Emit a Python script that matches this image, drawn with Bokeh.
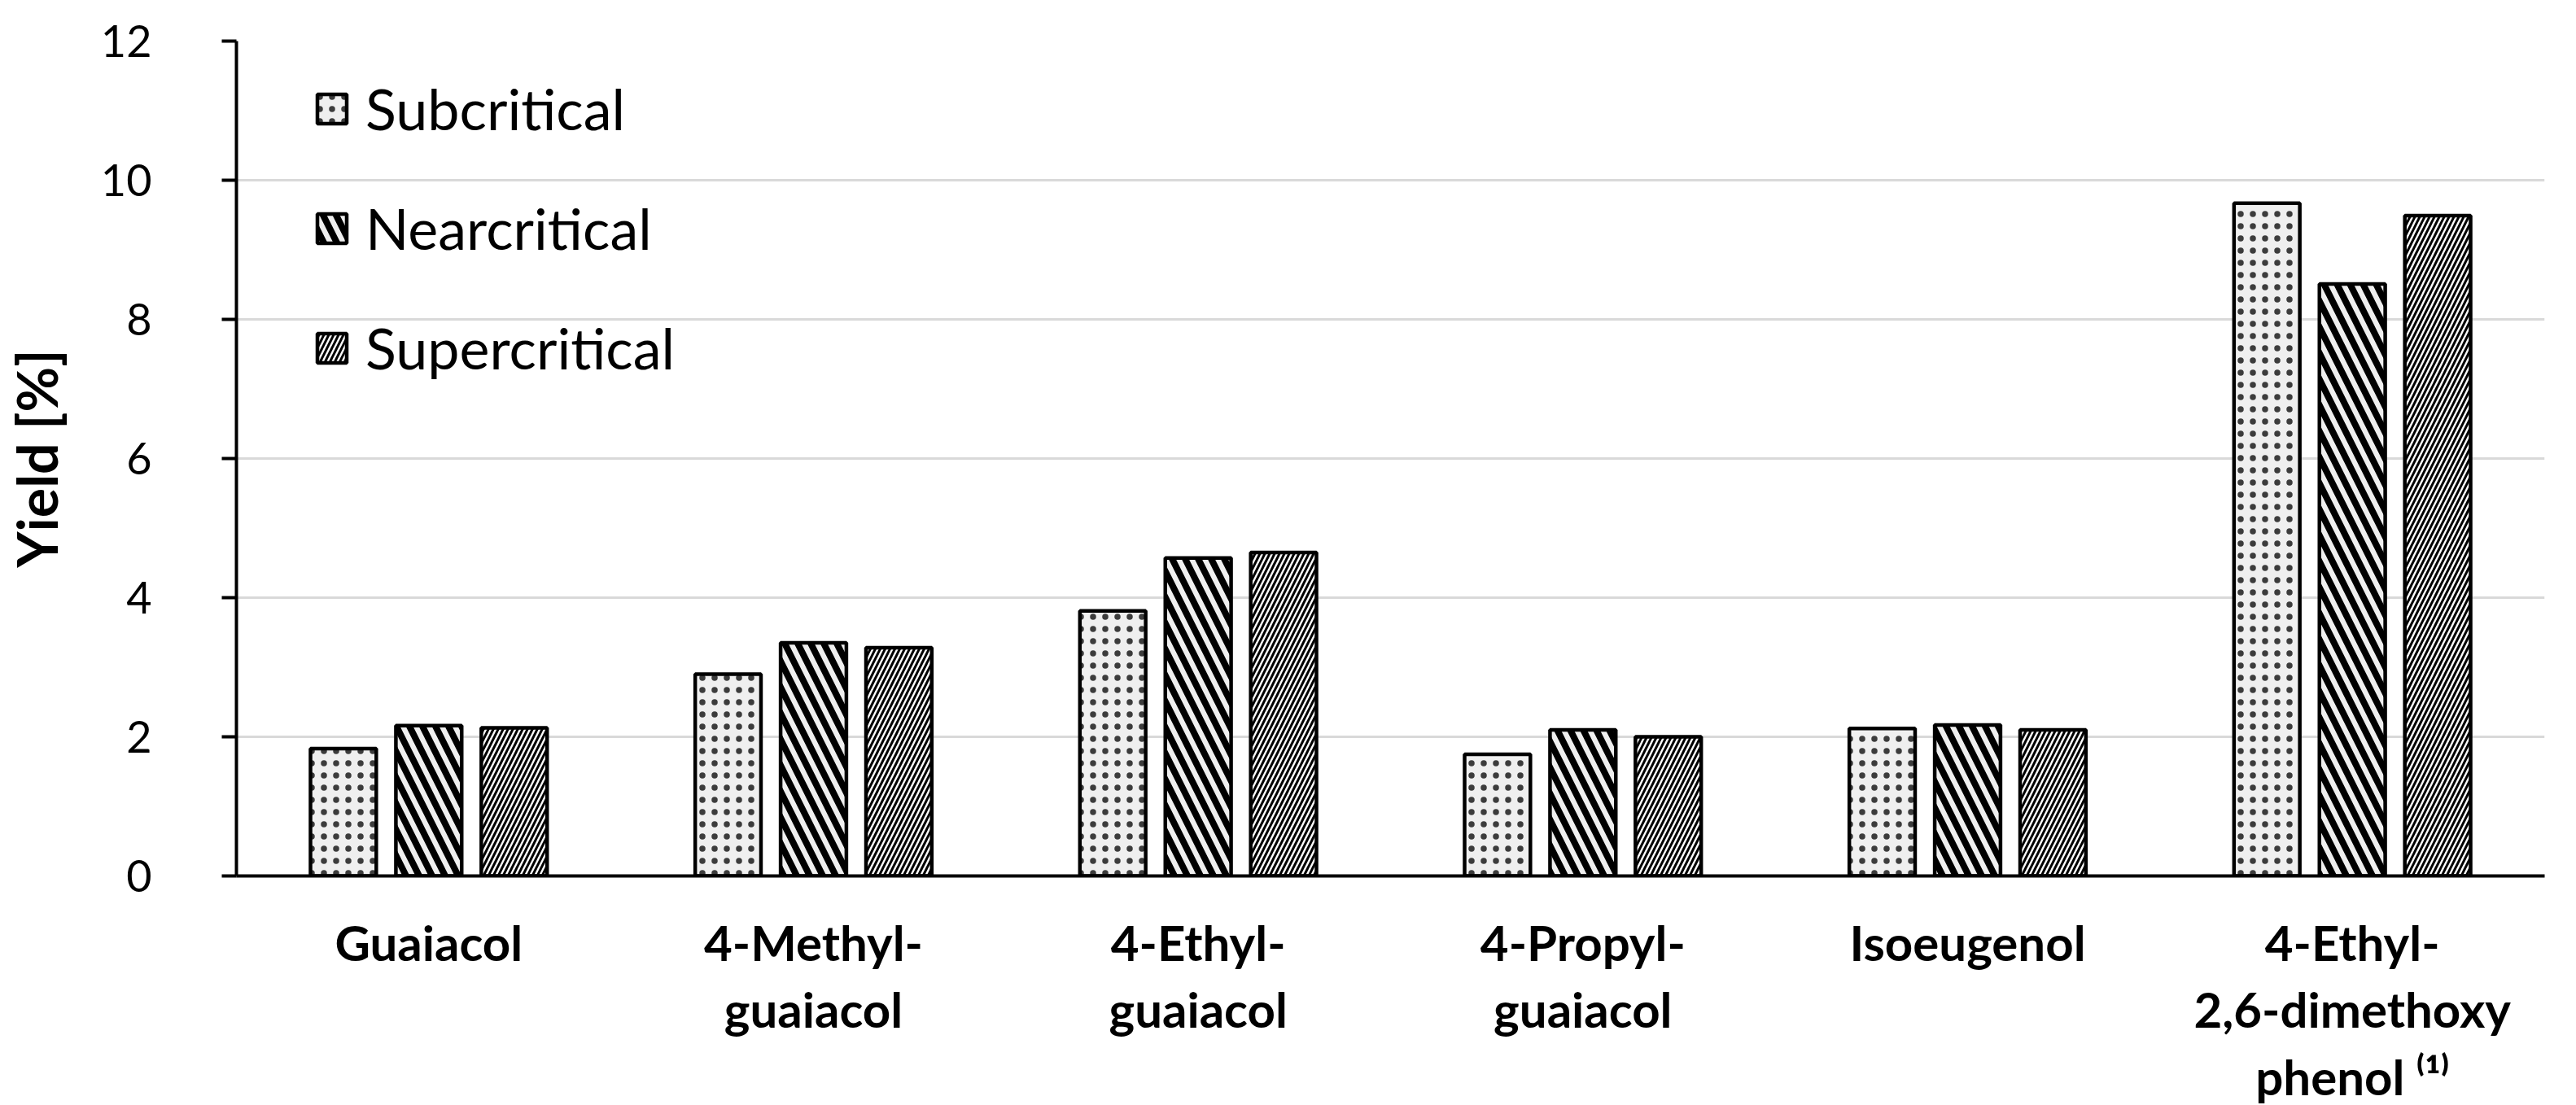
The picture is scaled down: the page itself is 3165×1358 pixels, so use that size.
from bokeh.plotting import figure
from bokeh.models import ColumnDataSource, Legend, LegendItem, FactorRange, FixedTicker
from bokeh.transform import dodge
from bokeh.embed import file_html
from bokeh.resources import INLINE

categories = ["Guaiacol", "4-Methyl-\nguaiacol", "4-Ethyl-\nguaiacol",
              "4-Propyl-\nguaiacol", "Isoeugenol", "4-Ethyl-\n2,6-dimethoxy\nphenol \u207d\u00b9\u207e"]
series_names = ["Subcritical", "Nearcritical", "Supercritical"]
subcritical = [1.83, 2.90, 3.81, 1.75, 2.12, 9.67]
nearcritical = [2.16, 3.35, 4.57, 2.10, 2.17, 8.51]
supercritical = [2.13, 3.28, 4.65, 2.00, 2.10, 9.49]
y_ticks = [0, 2, 4, 6, 8, 10, 12]

FONT = "Lato"

src = ColumnDataSource(dict(cat=categories, sub=subcritical, near=nearcritical, sup=supercritical))

p = figure(x_range=FactorRange(*categories), y_range=(0, 12),
           frame_width=2836, frame_height=1026,
           min_border_left=289, min_border_right=24, min_border_top=50, min_border_bottom=266,
           output_backend="svg", toolbar_location=None)
p.outline_line_color = None
p.background_fill_color = "white"
p.border_fill_color = "white"

p.xgrid.grid_line_color = None
p.ygrid.grid_line_color = "#d9d9d9"
p.ygrid.grid_line_width = 3
p.ygrid.ticker = FixedTicker(ticks=y_ticks)

ya = p.yaxis[0]
ya.ticker = FixedTicker(ticks=y_ticks)
ya.axis_line_width = 4
ya.axis_line_color = "black"
ya.major_tick_line_width = 4
ya.major_tick_line_color = "black"
ya.major_tick_out = 18
ya.major_tick_in = 0
ya.minor_tick_line_color = None
ya.major_label_standoff = 86
ya.major_label_text_font = FONT
ya.major_label_text_font_size = "54px"
ya.major_label_text_color = "black"
ya.axis_label = "Yield [%]"
ya.axis_label_text_font = FONT
ya.axis_label_text_font_style = "bold"
ya.axis_label_text_font_size = "68px"
ya.axis_label_text_color = "black"
ya.axis_label_standoff = 36

xa = p.xaxis[0]
xa.axis_line_width = 4
xa.axis_line_color = "black"
xa.major_tick_line_color = None
xa.major_tick_out = 0
xa.major_tick_in = 0
xa.minor_tick_line_color = None
xa.major_label_standoff = 45
xa.major_label_text_font = FONT
xa.major_label_text_font_style = "bold"
xa.major_label_text_font_size = "60px"
xa.major_label_text_color = "black"
xa.major_label_text_line_height = 1.15
xa.major_label_orientation = "horizontal"

offsets = [-0.222, 0.0, 0.222]
cols = ["sub", "near", "sup"]
styles = [
    dict(fill_color="#efefef", hatch_pattern="dot", hatch_scale=15, hatch_weight=1, hatch_alpha=0.75),
    dict(fill_color="#efefef", hatch_pattern="\\", hatch_scale=32, hatch_weight=8),
    dict(fill_color="white", hatch_pattern="/", hatch_scale=12, hatch_weight=3),
]
renderers = []
for off, col, st in zip(offsets, cols, styles):
    r = p.vbar(x=dodge("cat", off, range=p.x_range), top=col, width=0.171, source=src,
               line_color="black", line_width=4.5, hatch_color="black", **st)
    renderers.append(r)

legend = Legend(items=[LegendItem(label=n, renderers=[r]) for n, r in zip(series_names, renderers)],
                location=(95, 607), orientation="vertical",
                glyph_width=45, glyph_height=45, label_standoff=19, spacing=63,
                padding=0, margin=0, border_line_color=None, background_fill_alpha=0,
                label_text_font=FONT, label_text_font_size="70px", label_text_color="black")
p.add_layout(legend)

open("out.html", "w").write(file_html(p, INLINE))
